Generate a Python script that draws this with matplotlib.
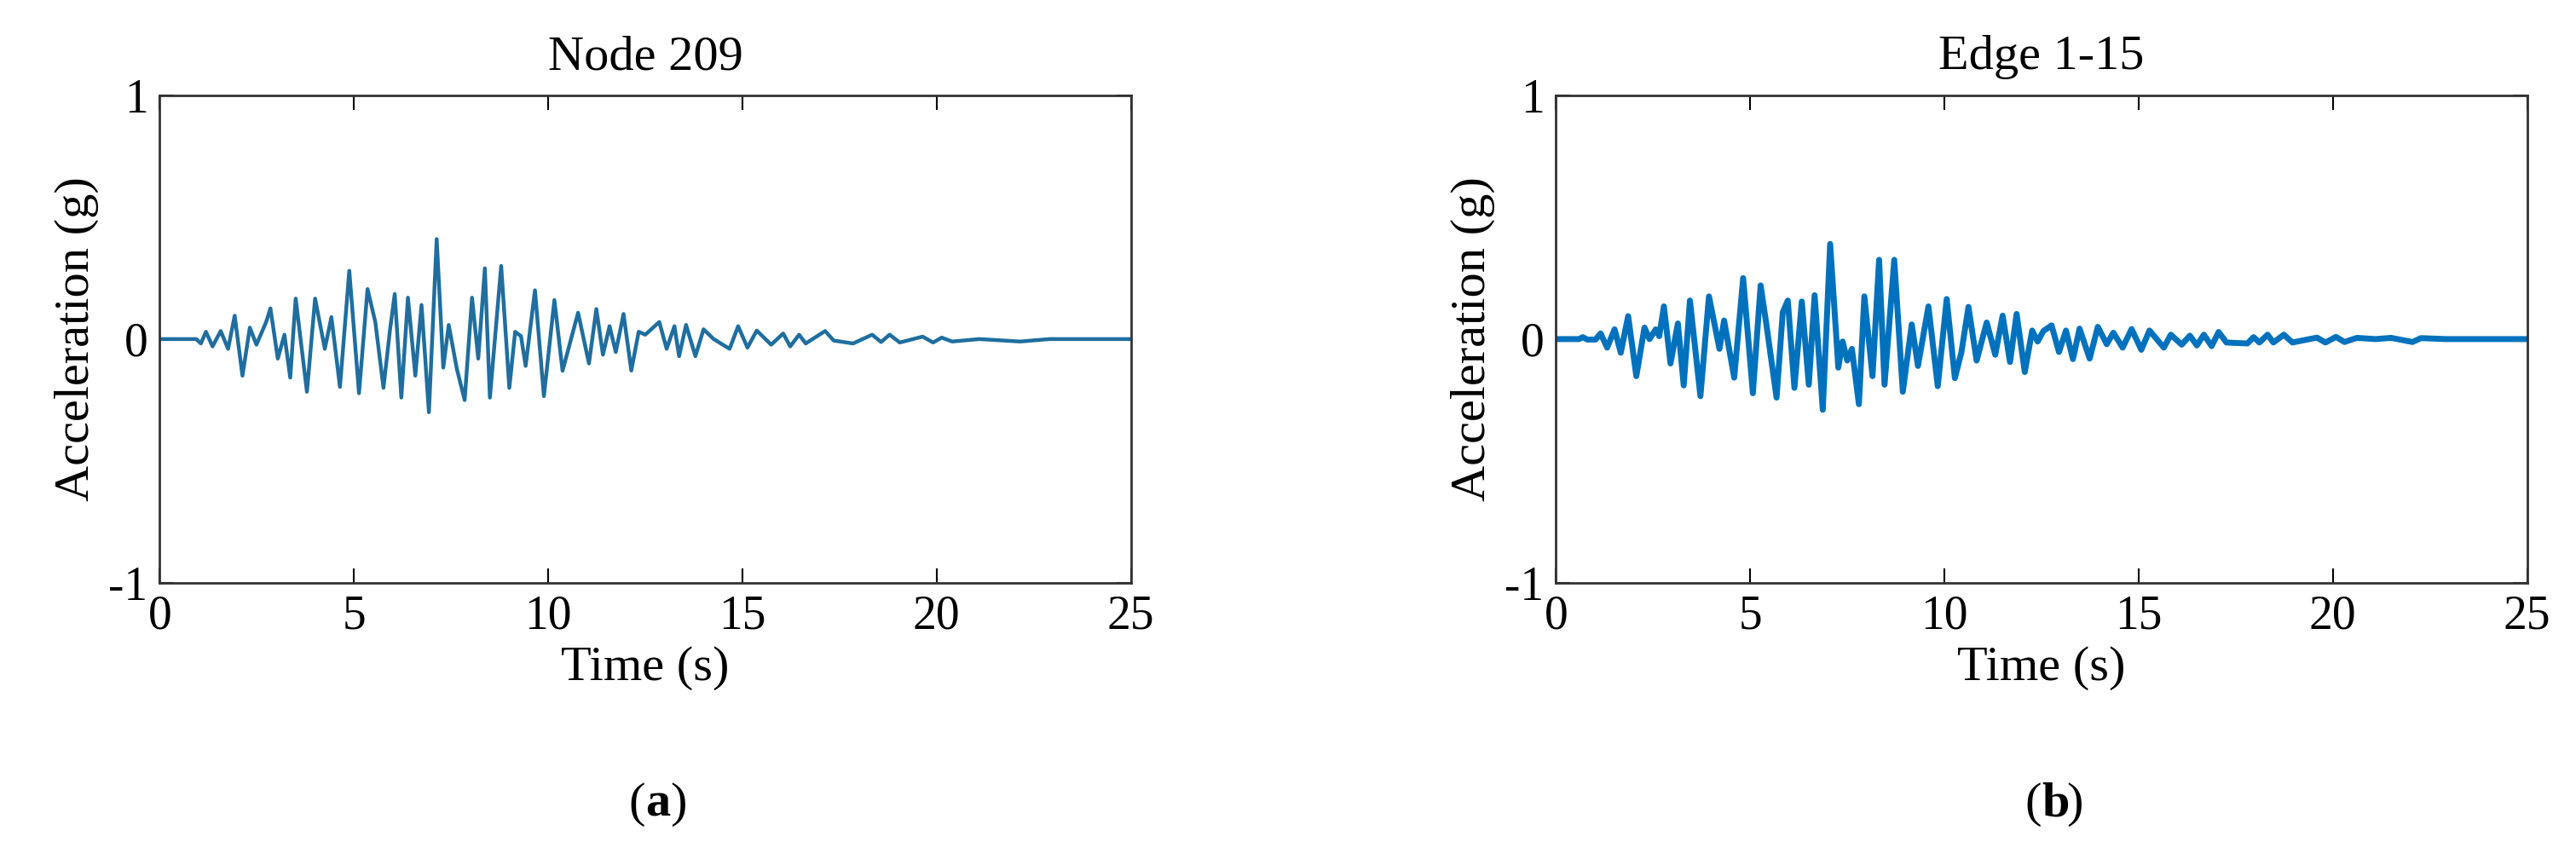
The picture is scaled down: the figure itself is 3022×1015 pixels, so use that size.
import numpy as np
import matplotlib.pyplot as plt

# Panel (a): Node 209, peaks/troughs
t_node = [0, 0.94, 1.06, 1.19, 1.36, 1.57, 1.76, 1.93, 2.13, 2.32, 2.49, 2.74, 2.85, 3.04, 3.21,
          3.36, 3.50, 3.79, 4.00, 4.25, 4.42, 4.64, 4.88, 5.13, 5.35, 5.55, 5.76, 5.93, 6.05,
          6.22, 6.39, 6.58, 6.74, 6.93, 7.13, 7.30, 7.44, 7.65, 7.85, 8.04, 8.20, 8.37, 8.50,
          8.79, 9.00, 9.15, 9.30, 9.42, 9.66, 9.89, 10.16, 10.37, 10.77, 11.05, 11.24, 11.41,
          11.58, 11.74, 11.94, 12.14, 12.33, 12.50, 12.86, 13.05, 13.25, 13.37, 13.55, 13.79,
          14.00, 14.26, 14.67, 14.89, 15.13, 15.37, 15.74, 16.05, 16.23, 16.46, 16.63, 17.13,
          17.35, 17.85, 18.34, 18.57, 18.79, 19.05, 19.64, 19.91, 20.13, 20.40, 21.1, 22.15,
          22.9, 23.9, 25]
a_node = [0, 0, -0.018, 0.03, -0.03, 0.033, -0.04, 0.096, -0.15, 0.047, -0.023, 0.07, 0.126,
          -0.08, 0.018, -0.158, 0.166, -0.216, 0.166, -0.04, 0.09, -0.196, 0.28, -0.222, 0.205,
          0.07, -0.2, 0.04, 0.185, -0.24, 0.17, -0.15, 0.14, -0.30, 0.41, -0.117, 0.058, -0.123,
          -0.25, 0.17, -0.08, 0.29, -0.24, 0.30, -0.2, 0.03, 0.012, -0.11, 0.2, -0.234, 0.16,
          -0.13, 0.108, -0.1, 0.123, -0.064, 0.053, -0.053, 0.103, -0.129, 0.03, 0.018, 0.07,
          -0.04, 0.053, -0.07, 0.058, -0.07, 0.04, 0, -0.04, 0.053, -0.035, 0.035, -0.023, 0.023,
          -0.03, 0.018, -0.018, 0.033, -0.006, -0.018, 0.018, -0.012, 0.018, -0.014, 0.01,
          -0.014, 0.006, -0.01, 0, -0.01, 0, 0, 0]

# Panel (b): Edge 1-15
t_edge = [0, 0.60, 0.69, 0.81, 1.02, 1.15, 1.32, 1.51, 1.67, 1.86, 2.07, 2.28, 2.41, 2.57, 2.66,
          2.78, 2.95, 3.14, 3.29, 3.45, 3.72, 3.94, 4.21, 4.33, 4.59, 4.82, 5.07, 5.27, 5.42,
          5.68, 5.84, 5.97, 6.14, 6.33, 6.51, 6.66, 6.87, 7.06, 7.27, 7.38, 7.50, 7.62, 7.80,
          7.94, 8.15, 8.32, 8.46, 8.71, 8.93, 9.16, 9.32, 9.59, 9.83, 10.06, 10.27, 10.44, 10.62,
          10.83, 11.09, 11.31, 11.50, 11.69, 11.86, 12.07, 12.26, 12.40, 12.55, 12.76, 12.95,
          13.13, 13.31, 13.48, 13.74, 13.95, 14.18, 14.35, 14.59, 14.82, 15.07, 15.28, 15.65,
          15.83, 16.11, 16.32, 16.50, 16.68, 16.88, 17.06, 17.26, 17.80, 17.96, 18.11, 18.32,
          18.47, 18.74, 18.96, 19.59, 19.81, 20.08, 20.30, 20.62, 21.1, 21.5, 22.05, 22.27,
          22.9, 25]
a_edge = [0, 0, 0.008, -0.002, -0.002, 0.023, -0.035, 0.04, -0.056, 0.094, -0.152, 0.047, 0,
          0.04, 0.012, 0.134, -0.1, 0.064, -0.19, 0.158, -0.234, 0.175, -0.04, 0.076, -0.158,
          0.25, -0.222, 0.22, 0.058, -0.24, 0.11, 0.158, -0.2, 0.154, -0.187, 0.18, -0.29, 0.39,
          -0.117, -0.01, -0.088, -0.04, -0.267, 0.175, -0.152, 0.325, -0.187, 0.325, -0.216,
          0.06, -0.11, 0.134, -0.193, 0.164, -0.16, -0.053, 0.132, -0.088, 0.068, -0.064, 0.096,
          -0.094, 0.103, -0.135, 0.035, -0.01, 0.033, 0.056, -0.053, 0.035, -0.082, 0.043,
          -0.08, 0.05, -0.021, 0.026, -0.035, 0.041, -0.044, 0.035, -0.035, 0.018, -0.023,
          0.014, -0.026, 0.018, -0.029, 0.029, -0.014, -0.018, 0.008, -0.014, 0.018, -0.014,
          0.018, -0.014, 0.006, -0.014, 0.009, -0.012, 0.005, 0, 0.005, -0.012, 0.004, 0, 0]

titles = ['Node 209', 'Edge 1-15']
panel_labels = ['a', 'b']
x_ticks = [0, 5, 10, 15, 20, 25]
y_ticks = [-1, 0, 1]

plt.rcParams['font.family'] = ['Liberation Serif', 'DejaVu Serif']
plt.rcParams['axes.unicode_minus'] = False
fig = plt.figure(figsize=(30.22, 10.15), dpi=100)

axes_pos = [[0.062, 0.326, 0.377, 0.564], [0.604, 0.326, 0.377, 0.564]]
series = [(t_node, a_node, '#1f6e9f', 3.2), (t_edge, a_edge, '#0072BD', 5)]

for pos, (t, a, col, lw), title, lab in zip(axes_pos, series, titles, panel_labels):
    ax = fig.add_axes(pos)
    ax.plot(t, a, color=col, lw=lw)
    ax.set_xlim(0, 25)
    ax.set_ylim(-1, 1)
    ax.set_xticks(x_ticks)
    ax.set_yticks(y_ticks)
    ax.tick_params(direction='in', length=12, width=1.5, labelsize=40, pad=10,
                   top=True, right=True)
    for s in ax.spines.values():
        s.set_linewidth(2)
        s.set_color('#333333')
    ax.set_title(title, fontsize=42, pad=22)
    ax.set_xlabel('Time (s)', fontsize=42, labelpad=6)
    ax.set_ylabel('Acceleration (g)', fontsize=42, labelpad=8)
    cx = pos[0] + pos[2] / 2
    fig.text(cx, 0.07, '(', fontsize=42, ha='right', va='center')
    fig.text(cx, 0.07, lab, fontsize=42, fontweight='bold', ha='left', va='center')
    fig.text(cx + 0.0095, 0.07, ')', fontsize=42, ha='left', va='center')

fig.savefig('out.png', dpi=100)
